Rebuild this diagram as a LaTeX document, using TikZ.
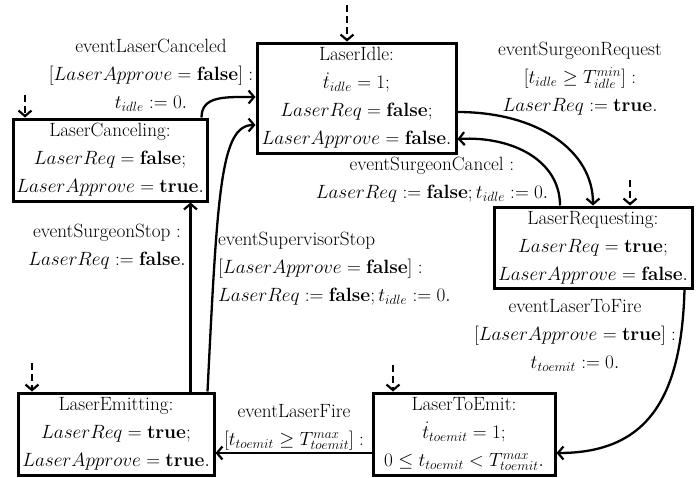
\documentclass[tikz,border=0pt]{standalone}
\usepackage{fix-cm}
\usetikzlibrary{arrows.meta}
\begin{document}
\begin{tikzpicture}[x=1pt,y=-1pt,
  font=\fontsize{19.2}{28}\selectfont,
  st/.style={draw, line width=3pt, rectangle, inner sep=0pt, align=center},
  tr/.style={line width=2.3pt, -{Straight Barb[length=5.5pt,width=13pt,line width=2.2pt]}},
  ini/.style={tr, dash pattern=on 7pt off 4pt},
  lbl/.style={inner sep=0pt, align=center}]
\useasboundingbox (0,0) rectangle (699,477);

% states
\node[st, minimum width=199pt, minimum height=110pt] (idle) at (356.5,98)
  {LaserIdle:\\ $\dot t_{idle}=1;$\\ $LaserReq=\mathbf{false};$\\ $LaserApprove=\mathbf{false}.$};
\node[st, minimum width=194pt, minimum height=82pt] (canc) at (110,160)
  {LaserCanceling:\\ $LaserReq=\mathbf{false};$\\ $LaserApprove=\mathbf{true}.$};
\node[st, minimum width=198pt, minimum height=81pt] (req) at (593,247.5)
  {LaserRequesting:\\ $LaserReq=\mathbf{true};$\\ $LaserApprove=\mathbf{false}.$};
\node[st, minimum width=196pt, minimum height=82pt] (emit) at (116,434)
  {LaserEmitting:\\ $LaserReq=\mathbf{true};$\\ $LaserApprove=\mathbf{true}.$};
\node[st, minimum width=182pt, minimum height=82pt] (toemit) at (464,434)
  {LaserToEmit:\\ $\dot t_{toemit}=1;$\\ $0\le t_{toemit}<T^{max}_{toemit}.$};

% initial arrows
\coordinate (i1) at (347,5);
\coordinate (i2) at (25,95);
\coordinate (i3) at (630,180);
\coordinate (i4) at (32,363);
\coordinate (i5) at (393,365);
\draw[ini] (i1) -- (i1 |- idle.north);
\draw[ini] (i2) -- (i2 |- canc.north);
\draw[ini] (i3) -- (i3 |- req.north);
\draw[ini] (i4) -- (i4 |- emit.north);
\draw[ini] (i5) -- (i5 |- toemit.north);

% transitions
\draw[tr] ([xshift=-7pt]canc.north east) .. controls +(0,-22) and +(-30,0) .. ([yshift=1pt]idle.west);
\draw[tr] ([xshift=-8pt]emit.north east) .. controls +(10,-200) and +(-35,0) .. ([yshift=-27pt]idle.west);
\draw[tr] ([xshift=-25pt]emit.north east) -- ([xshift=-18pt]canc.south east);
\draw[tr] ([yshift=-14pt]idle.east) .. controls +(80,0) and +(0,-55) .. (req.north);
\draw[tr] ([xshift=-33pt]req.north) .. controls +(0,-45) and +(55,-3) .. ([yshift=-41pt]idle.east);
\draw[tr] ([xshift=-9pt]req.south east) .. controls +(-3,110) and +(90,0) .. ([yshift=-19pt]toemit.east);
\draw[tr] ([yshift=-19pt]toemit.west) -- ([yshift=-19pt]emit.east);

% labels
\node[lbl] (l1) at (151,75) {eventLaserCanceled\\ $[LaserApprove=\mathbf{false}]:$\\ $t_{idle}:=0.$};
\node[lbl] (l2) at (580,79) {eventSurgeonRequest\\ $[t_{idle}\ge T^{min}_{idle}]:$\\ $LaserReq:=\mathbf{true}.$};
\node[lbl] (l3) at (432,180) {eventSurgeonCancel :\\ $LaserReq:=\mathbf{false}; t_{idle}:=0.$};
\node[lbl] (l4) at (107,247) {eventSurgeonStop :\\ $LaserReq:=\mathbf{false}.$};
\node[lbl, align=left, anchor=west] (l5) at (218,269) {eventSupervisorStop\\ $[LaserApprove=\mathbf{false}]:$\\ $LaserReq:=\mathbf{false}; t_{idle}:=0.$};
\node[lbl] (l6) at (575,335) {eventLaserToFire\\ $[LaserApprove=\mathbf{true}]:$\\ $t_{toemit}:=0.$};
\node[lbl] (l7) at (294,427) {eventLaserFire\\ $[t_{toemit}\ge T^{max}_{toemit}]:$};
\end{tikzpicture}
\end{document}
